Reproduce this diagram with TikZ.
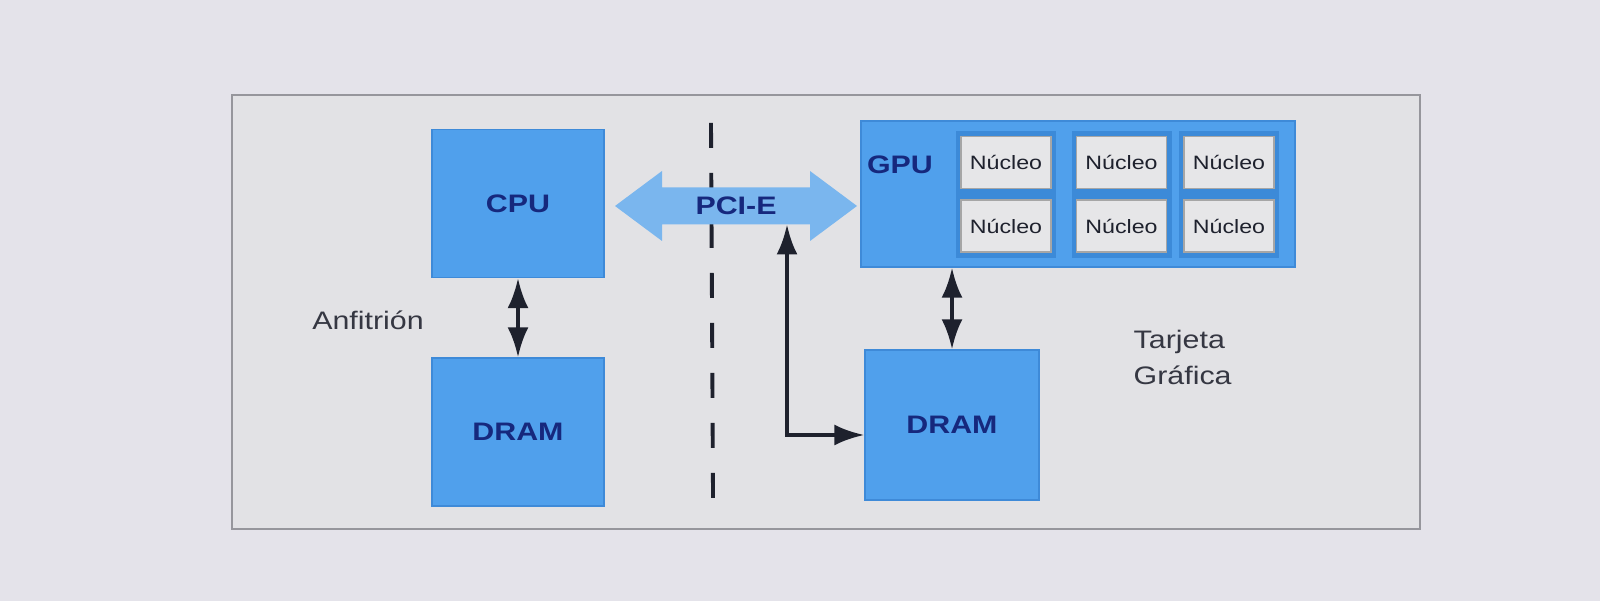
\documentclass[tikz,border=0pt]{standalone}
\usepackage{fontspec}
\setmainfont{Liberation Sans}[FakeStretch=1.2]
\usetikzlibrary{arrows.meta,calc}
\definecolor{slidebg}{RGB}{228,227,234}
\definecolor{panelbg}{RGB}{226,226,229}
\definecolor{panelline}{RGB}{150,150,156}
\definecolor{boxblue}{RGB}{80,160,236}
\definecolor{boxedge}{RGB}{62,138,216}
\definecolor{coldark}{RGB}{60,138,216}
\definecolor{busblue}{RGB}{122,182,238}
\definecolor{navy}{RGB}{22,40,125}
\definecolor{corefill}{RGB}{230,230,232}
\definecolor{ink}{RGB}{30,33,45}
\tikzset{%
    tag/.style={inner sep=0pt,text=navy,font=\fontsize{7.2}{8.6}\selectfont\bfseries},
    blk/.style={tag,draw=boxedge,fill=boxblue,minimum width=1.72cm,minimum height=1.48cm},
    core/.style={draw=gray!70,fill=corefill,inner sep=0pt,minimum width=.9cm,minimum height=.52cm,text=ink,font=\fontsize{5.5}{6.5}\selectfont},
    lbl/.style={inner sep=0pt,text=ink!90,font=\fontsize{7.2}{10}\selectfont,align=left},
    bus/.style={draw=ink,line width=1.1pt,{Latex[length=3mm,width=2.1mm]}-{Latex[length=3mm,width=2.1mm]}}
}
\begin{document}
\begin{tikzpicture}
        \useasboundingbox (0,0) rectangle (16,6.01);
        \fill[slidebg] (0,0) rectangle (16,6.01);
        \draw[panelline,fill=panelbg,line width=0.6pt] (2.32,0.72) rectangle (14.2,5.06);

        \draw[ink,line width=1.1pt,dash pattern=on 0.25cm off 0.25cm] (7.11,4.78) -- (7.13,1.03);
        \fill[busblue] (6.15,3.95) -- (6.62,4.30) -- (6.62,4.135) -- (8.10,4.135) -- (8.10,4.30)
            -- (8.57,3.95) -- (8.10,3.60) -- (8.10,3.765) -- (6.62,3.765) -- (6.62,3.60) -- cycle;
        \node[tag,minimum width=1.48cm,minimum height=.37cm] (pcie) at (7.36,3.95) {PCI-E};

        \node[blk] (cpu) at (5.18,3.975) {CPU};
        \node[blk] (hdram) at (5.18,1.69) {DRAM};
        \node[lbl] (host) at (3.68,2.81) {Anfitrión};

        \node[blk,minimum width=4.34cm,minimum height=1.46cm] (gpu) at (10.78,4.07) {};
        \node[tag] (gpulbl) at (9.00,4.36) {GPU};
        \foreach \x in {10.06,11.215,12.29} {
            \fill[coldark] (\x-0.5,3.43) rectangle (\x+0.5,4.70);
        }
        \foreach \x [count=\i] in {10.06,11.215,12.29} {
            \node[core] (n1\i) at (\x,4.385) {Núcleo};
            \node[core] (n2\i) at (\x,3.75) {Núcleo};
        }
        \node[blk,minimum width=1.74cm,minimum height=1.5cm] (gdram) at (9.52,1.76) {DRAM};
        \node[lbl,anchor=west] (card) at (11.33,2.435) {Tarjeta\\Gráfica};

        \draw[bus] (cpu.south) -- (hdram.north);
        \draw[bus] (gdram.north |- gpu.south) -- (gdram.north);
        \coordinate (tap) at (7.87,3.765);
        \draw[bus] (tap) |- ($(gdram.west)+(0,-.1)$);
    \end{tikzpicture}
\end{document}
